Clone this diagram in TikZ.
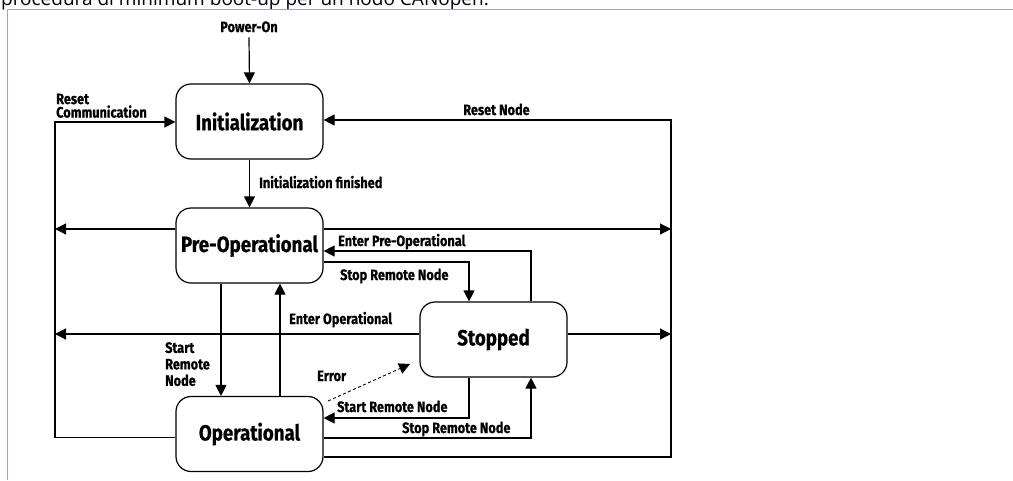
\documentclass[tikz,border=0pt]{standalone}
\usepackage{fontspec}
\usetikzlibrary{arrows.meta}
\newfontfamily\lblfont[FakeStretch=0.85, BoldFeatures={FakeBold=0.6}]{Fira Sans}
\newfontfamily\titlefont{Open Sans}
\definecolor{framecol}{RGB}{150,165,215}
\tikzset{
  statebox/.style={draw, line width=1.2pt, rounded corners=15pt, minimum width=147pt, minimum height=75pt, inner sep=0pt, font=\lblfont\bfseries\fontsize{22}{24}\selectfont},
  lab/.style={inner sep=0pt, font=\lblfont\bfseries\fontsize{15}{16}\selectfont},
  arr/.style={line width=1.2pt, -{Triangle[length=11pt,width=11pt]}},
}
\begin{document}
\begin{tikzpicture}[x=1pt,y=-1pt]
\useasboundingbox (0,0) rectangle (1013,480);
\clip (0,0) rectangle (1013,480);
\fill[white] (0,0) rectangle (1013,480);
% cut-off heading
\node[anchor=base west, inner sep=0pt, font=\titlefont\fontsize{19}{20}\selectfont] (title) at (1,5) {procedura di minimum boot-up per un nodo CANopen.};
% frame
\draw[framecol, line width=1pt] (7,480) -- (7,9) -- (1013,9);
% states
\node[statebox] (init) at (249.5,121.5) {Initialization};
\node[statebox] (preop) at (249.5,245.5) {Pre-Operational};
\node[statebox] (stopped) at (493.5,339.5) {Stopped};
\node[statebox] (oper) at (249.5,434) {Operational};
% power-on
\node[lab, anchor=base] (power) at (249,32) {Power-On};
\draw[arr] ([yshift=-5pt]power.south) -- (init.north);
% reset communication
\node[lab, anchor=south west, align=left, font=\lblfont\bfseries\fontsize{15}{13.5}\selectfont] (rc) at (56,118) {Reset\\Communication};
\coordinate (L1) at (55,122);
\coordinate (L2) at (55,229);
\coordinate (L3) at (55,334);
\draw[arr] (oper.west |- 0,437.5) -| (L1) -- (init.west |- L1);
% reset node
\node[lab, anchor=base] (rn) at (496.5,115) {Reset Node};
\coordinate (R1) at (671,120);
\coordinate (R2) at (671,229);
\coordinate (R3) at (671,334);
\draw[arr] (oper.east |- 0,457) -| (R1) -- (init.east |- R1);
% init -> preop
\draw[arr] (init) -- (preop);
\node[lab, anchor=base west] (if) at (259,188) {Initialization finished};
% preop side arrows
\draw[arr] (preop.west |- L2) -- (L2);
\draw[arr] (preop.east |- R2) -- (R2);
% enter pre-operational
\draw[arr] (stopped.north -| 531,0) |- (preop.east |- 0,251);
\node[lab, anchor=base west] (epo) at (338,246) {Enter Pre-Operational};
% stop remote node (preop -> stopped)
\draw[arr] (preop.east |- 0,262) -| (stopped.north -| 469,0);
\node[lab, anchor=base west] (srn1) at (340,280) {Stop Remote Node};
% preop <-> oper
\draw[arr] (preop.south -| 221,0) -- (oper.north -| 221,0);
\node[lab, anchor=north west, align=left, font=\lblfont\bfseries\fontsize{15}{16.5}\selectfont] (start1) at (165,342) {Start\\Remote\\Node};
\draw[arr] (oper.north -| 280,0) -- (preop.south -| 280,0);
% enter operational
\draw[arr] (stopped.west |- L3) -- (L3);
\node[lab, anchor=base west] (eo) at (289,324) {Enter Operational};
\draw[arr] (stopped.east |- R3) -- (R3);
% error
\coordinate (e1) at (328,401);
\coordinate (e2) at (410,364);
\draw[arr, dashed, dash pattern=on 3pt off 2.5pt, line width=0.9pt] (e1) -- (e2);
\node[lab, anchor=base west] (err) at (317,381) {Error};
% start remote node (stopped -> oper)
\draw[arr] (stopped.south -| 469,0) |- (oper.east |- 0,418);
\node[lab, anchor=base west] (srn2) at (337,412) {Start Remote Node};
% stop remote node (oper -> stopped)
\draw[arr] (oper.east |- 0,438) -| (stopped.south -| 531,0);
\node[lab, anchor=base west] (srn3) at (402,433) {Stop Remote Node};
\end{tikzpicture}
\end{document}
